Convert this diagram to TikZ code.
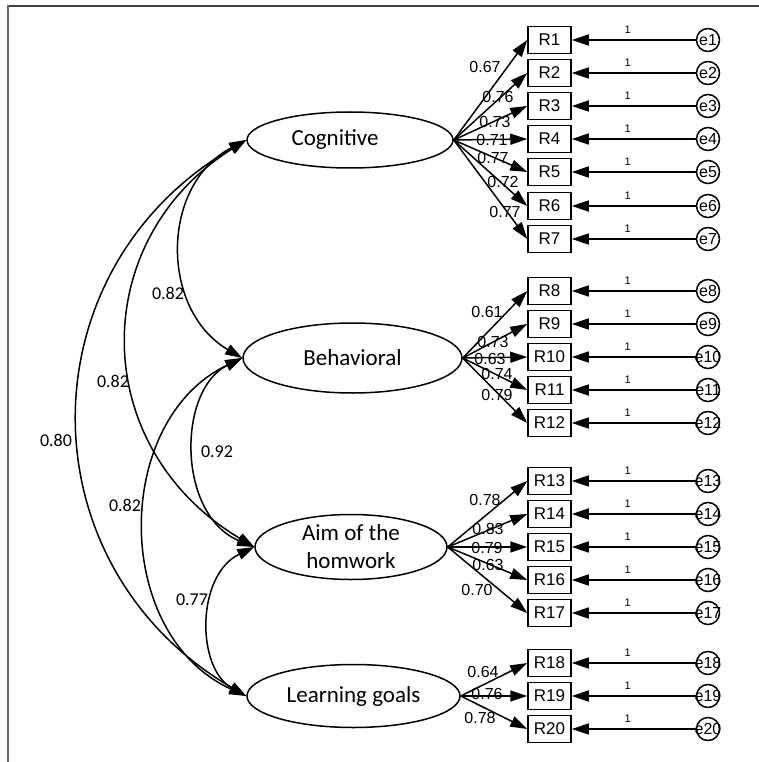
\documentclass[tikz,border=0pt]{standalone}
\usepackage{fontspec}
\setmainfont{Liberation Sans}
\newfontfamily\carl{Carlito}
\usetikzlibrary{shapes.geometric,arrows.meta}
\tikzset{
 lat/.style={ellipse, draw, line width=1.5pt, inner sep=0pt, font=\carl\fontsize{23}{28}\selectfont, align=center},
 obs/.style={rectangle, draw, line width=1.5pt, minimum width=43pt, minimum height=27pt, inner sep=0pt, font=\fontsize{17}{20}\selectfont},
 err/.style={circle, draw, line width=1.5pt, minimum size=23pt, inner sep=0pt, font=\fontsize{16}{18}\selectfont},
 arr/.style={line width=1.5pt, -{Triangle[length=17pt,width=11pt]}},
 cov/.style={line width=1.5pt, {Triangle[length=17pt,width=11pt]}-{Triangle[length=17pt,width=11pt]}},
 ld/.style={font=\fontsize{16}{18}\selectfont, inner sep=0pt},
 cl/.style={font=\carl\fontsize{18}{20}\selectfont, inner sep=0pt},
 one/.style={font=\fontsize{11}{12}\selectfont, inner sep=0pt},
}
\begin{document}
\begin{tikzpicture}[x=1pt,y=-1pt]
\useasboundingbox (0,0) rectangle (759,762);
\draw[line width=1.5pt, black!75] (759,6) -- (8,6);
\draw[line width=2.5pt, black!60] (8,5.5) -- (8,762);
% latent variables
\node[lat, minimum width=206pt, minimum height=56pt] (cog) at (350,140) {Cognitive\hspace*{30pt}};
\node[lat, minimum width=219pt, minimum height=70pt] (beh) at (352.5,358) {Behavioral};
\node[lat, minimum width=192pt, minimum height=65pt] (aim) at (351,547) {Aim of the\\homwork};
\node[lat, minimum width=213pt, minimum height=63pt] (lrn) at (353.5,696) {Learning goals};
% observed variables and errors
\foreach \i/\y in {1/40,2/73,3/106,4/139,5/172,6/206,7/239,8/291,9/324,10/357,11/390,12/423,13/481,14/514,15/547,16/580,17/613,18/663,19/696,20/729}{
 \node[obs] (R\i) at (549.5,\y) {R\i};
 \node[err] (e\i) at (708,\y) {\makebox[0pt][c]{e\i}};
 \draw[arr] (e\i) -- node[one, pos=0.55, yshift=10pt] {1} (R\i);
}
% loadings
\foreach \i/\lx/\ly/\v in {1/485/67/0.67,2/498/97/0.76,3/495/122/0.73,4/492/140/0.71,5/493/158/0.77,6/503/182/0.72,7/505/212/0.77}{
 \draw[arr] (cog.east) -- (R\i.west);
 \node[ld] at (\lx,\ly) {\v};
}
\foreach \i/\lx/\ly/\v in {8/487/312/0.61,9/493/342/0.73,10/490/359/0.63,11/497/374/0.74,12/497/395/0.79}{
 \draw[arr] (beh.east) -- (R\i.west);
 \node[ld] at (\lx,\ly) {\v};
}
\foreach \i/\lx/\ly/\v in {13/485/500/0.78,14/488/529/0.83,15/487/548/0.79,16/488/565/0.63,17/477/590/0.70}{
 \draw[arr] (aim.east) -- (R\i.west);
 \node[ld] at (\lx,\ly) {\v};
}
\foreach \i/\lx/\ly/\v in {18/483/672/0.64,19/487/694/0.76,20/480/718/0.78}{
 \draw[arr] (lrn.east) -- (R\i.west);
 \node[ld] at (\lx,\ly) {\v};
}
% covariances
\draw[cov] (cog.west) .. controls (160,185) and (160,310) .. (beh.west);
\draw[cov] (cog.west) .. controls (87,240) and (87,447) .. (aim.west);
\draw[cov] (cog.west) .. controls (23,270) and (23,566) .. (lrn.west);
\draw[cov] (beh.west) .. controls (177,390) and (177,515) .. (aim.west);
\draw[cov] (beh.west) .. controls (112,420) and (112,635) .. (lrn.west);
\draw[cov] (aim.west) .. controls (196,575) and (196,668) .. (lrn.west);
\node[cl] at (168,293) {0.82};
\node[cl] at (113,381) {0.82};
\node[cl] at (56,440) {0.80};
\node[cl] at (217,452) {0.92};
\node[cl] at (125,505) {0.82};
\node[cl] at (192,600) {0.77};
\end{tikzpicture}
\end{document}
